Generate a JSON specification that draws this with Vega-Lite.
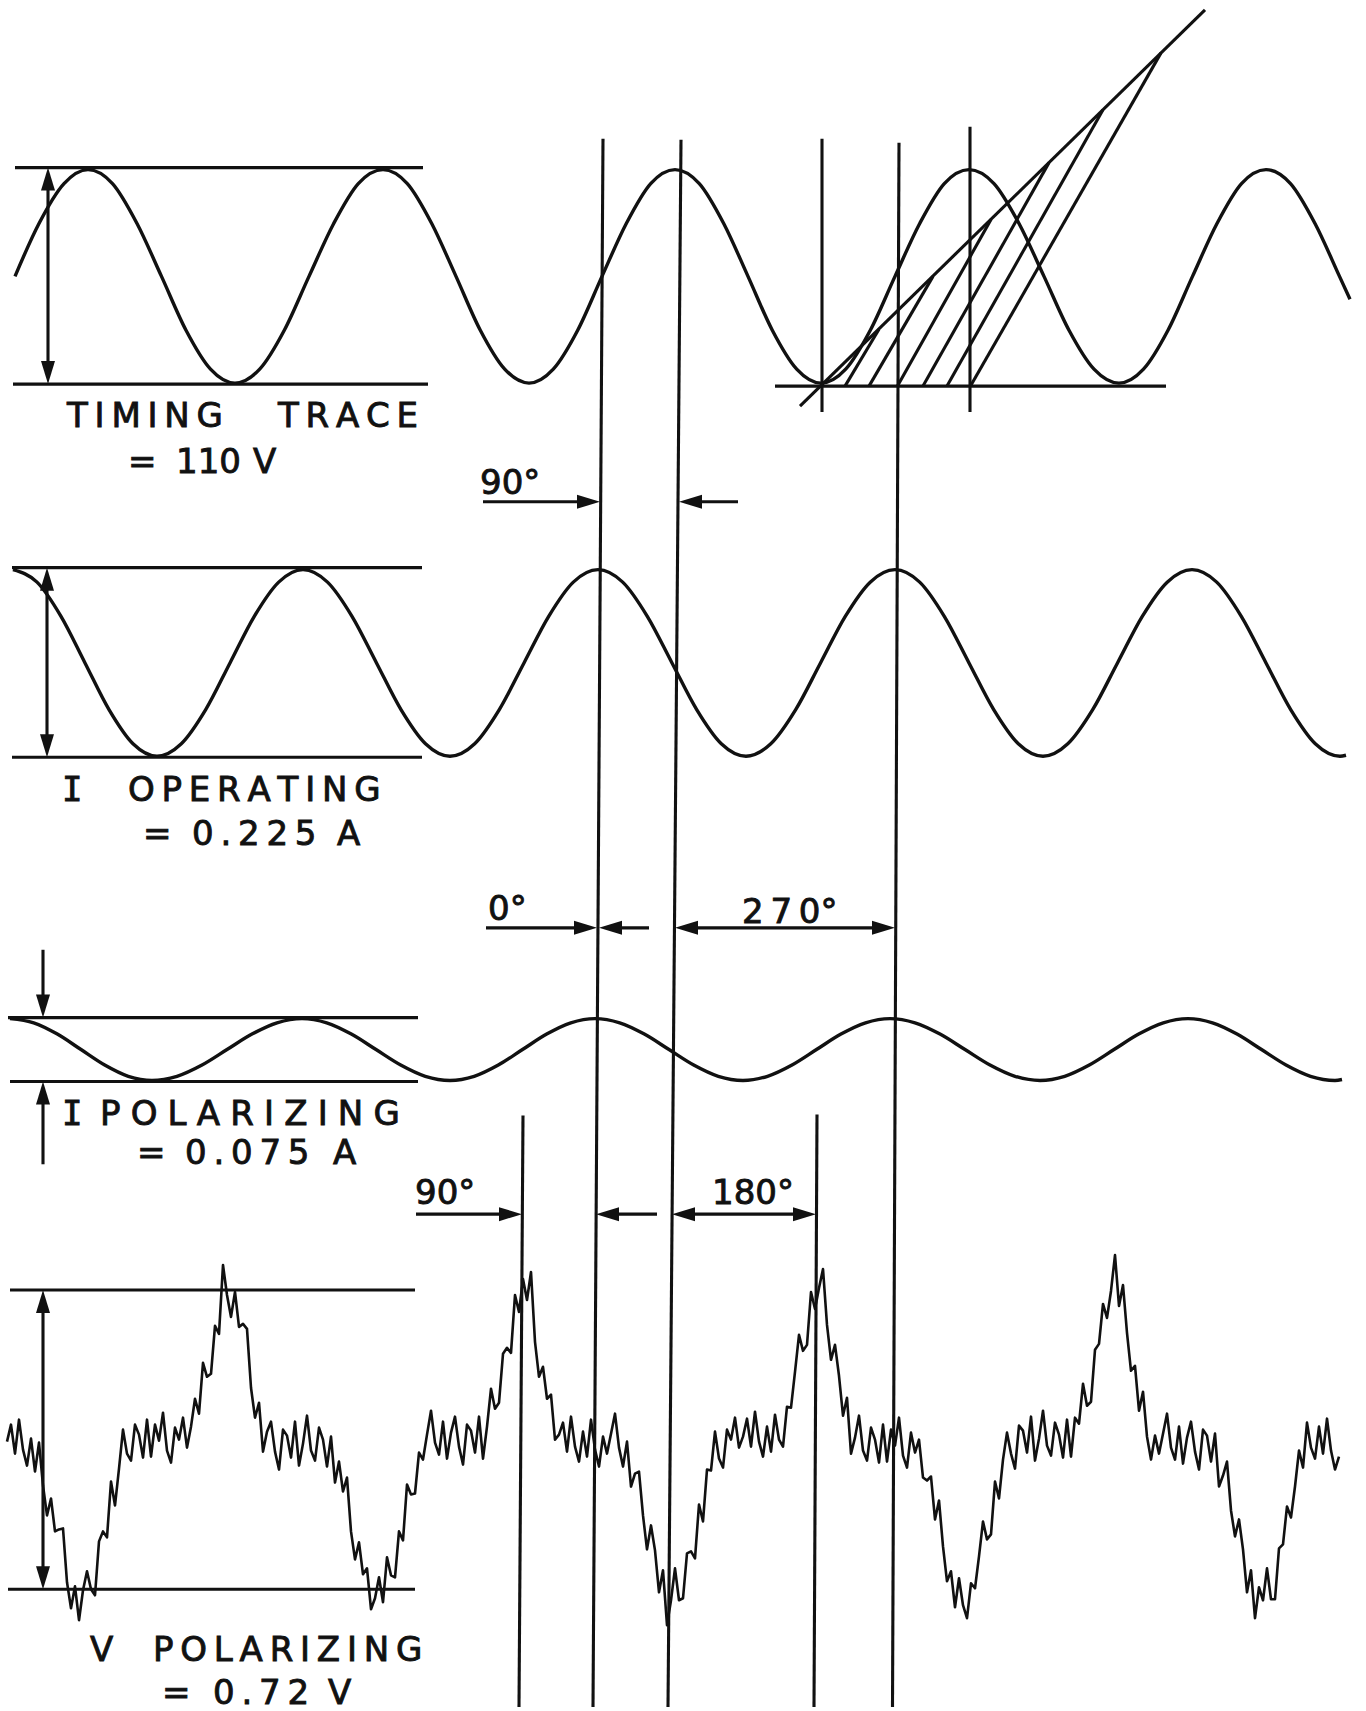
{
"$schema":"https://vega.github.io/schema/vega-lite/v6.json",
"width":1366,"height":1711,"padding":0,
"autosize":{"type":"fit","contains":"padding"},
"background":"white",
"config":{"view":{"stroke":null}},
"datasets":{
"curves":[
{"c":"t","x":15,"y":277},{"c":"t","x":39,"y":224},{"c":"t","x":64,"y":184},{"c":"t","x":88,"y":170},{"c":"t","x":112.5,"y":184},{"c":"t","x":137,"y":224},{"c":"t","x":161.5,"y":277},{"c":"t","x":186,"y":331},{"c":"t","x":210.5,"y":370},{"c":"t","x":235,"y":384},{"c":"t","x":259.7,"y":370},{"c":"t","x":284.3,"y":331},{"c":"t","x":309,"y":277},{"c":"t","x":333.7,"y":224},{"c":"t","x":358.3,"y":184},{"c":"t","x":383,"y":170},{"c":"t","x":407.3,"y":184},{"c":"t","x":431.7,"y":224},{"c":"t","x":456,"y":277},{"c":"t","x":480.3,"y":331},{"c":"t","x":504.7,"y":370},{"c":"t","x":529,"y":384},{"c":"t","x":553.3,"y":370},{"c":"t","x":577.7,"y":331},{"c":"t","x":602,"y":277},{"c":"t","x":626.3,"y":224},{"c":"t","x":650.7,"y":184},{"c":"t","x":675,"y":170},{"c":"t","x":699.3,"y":184},{"c":"t","x":723.7,"y":224},{"c":"t","x":748,"y":277},{"c":"t","x":772.3,"y":331},{"c":"t","x":796.7,"y":370},{"c":"t","x":821,"y":384},{"c":"t","x":845.7,"y":370},{"c":"t","x":870.3,"y":331},{"c":"t","x":895,"y":277},{"c":"t","x":919.7,"y":224},{"c":"t","x":944.3,"y":184},{"c":"t","x":969,"y":170},{"c":"t","x":994,"y":184},{"c":"t","x":1019,"y":224},{"c":"t","x":1044,"y":277},{"c":"t","x":1069,"y":331},{"c":"t","x":1094,"y":370},{"c":"t","x":1119,"y":384},{"c":"t","x":1143.5,"y":370},{"c":"t","x":1168,"y":331},{"c":"t","x":1192.5,"y":277},{"c":"t","x":1217,"y":224},{"c":"t","x":1241.5,"y":184},{"c":"t","x":1266,"y":170},{"c":"t","x":1290.5,"y":184},{"c":"t","x":1315,"y":224},{"c":"t","x":1339.5,"y":277},{"c":"t","x":1350,"y":300},
{"c":"o","x":13,"y":571},{"c":"o","x":37,"y":583.5},{"c":"o","x":61,"y":617.8},{"c":"o","x":85,"y":664.5},{"c":"o","x":109,"y":711.3},{"c":"o","x":133,"y":745.5},{"c":"o","x":157,"y":758},{"c":"o","x":181.3,"y":745.5},{"c":"o","x":205.7,"y":711.3},{"c":"o","x":230,"y":664.5},{"c":"o","x":254.3,"y":617.8},{"c":"o","x":278.7,"y":583.5},{"c":"o","x":303,"y":571},{"c":"o","x":327.5,"y":583.5},{"c":"o","x":352,"y":617.8},{"c":"o","x":376.5,"y":664.5},{"c":"o","x":401,"y":711.3},{"c":"o","x":425.5,"y":745.5},{"c":"o","x":450,"y":758},{"c":"o","x":474.7,"y":745.5},{"c":"o","x":499.3,"y":711.3},{"c":"o","x":524,"y":664.5},{"c":"o","x":548.7,"y":617.8},{"c":"o","x":573.3,"y":583.5},{"c":"o","x":598,"y":571},{"c":"o","x":622.7,"y":583.5},{"c":"o","x":647.3,"y":617.8},{"c":"o","x":672,"y":664.5},{"c":"o","x":696.7,"y":711.3},{"c":"o","x":721.3,"y":745.5},{"c":"o","x":746,"y":758},{"c":"o","x":770.8,"y":745.5},{"c":"o","x":795.7,"y":711.3},{"c":"o","x":820.5,"y":664.5},{"c":"o","x":845.3,"y":617.8},{"c":"o","x":870.2,"y":583.5},{"c":"o","x":895,"y":571},{"c":"o","x":919.7,"y":583.5},{"c":"o","x":944.3,"y":617.8},{"c":"o","x":969,"y":664.5},{"c":"o","x":993.7,"y":711.3},{"c":"o","x":1018.3,"y":745.5},{"c":"o","x":1043,"y":758},{"c":"o","x":1067.8,"y":745.5},{"c":"o","x":1092.7,"y":711.3},{"c":"o","x":1117.5,"y":664.5},{"c":"o","x":1142.3,"y":617.8},{"c":"o","x":1167.2,"y":583.5},{"c":"o","x":1192,"y":571},{"c":"o","x":1216.7,"y":583.5},{"c":"o","x":1241.3,"y":617.8},{"c":"o","x":1266,"y":664.5},{"c":"o","x":1290.7,"y":711.3},{"c":"o","x":1315.3,"y":745.5},{"c":"o","x":1340,"y":758},{"c":"o","x":1346,"y":757},
{"c":"p","x":10,"y":1021},{"c":"p","x":33.7,"y":1025.2},{"c":"p","x":57.3,"y":1036.5},{"c":"p","x":81,"y":1052},{"c":"p","x":104.7,"y":1067.5},{"c":"p","x":128.3,"y":1078.8},{"c":"p","x":152,"y":1083},{"c":"p","x":177,"y":1078.8},{"c":"p","x":202,"y":1067.5},{"c":"p","x":227,"y":1052},{"c":"p","x":252,"y":1036.5},{"c":"p","x":277,"y":1025.2},{"c":"p","x":302,"y":1021},{"c":"p","x":326.7,"y":1025.2},{"c":"p","x":351.3,"y":1036.5},{"c":"p","x":376,"y":1052},{"c":"p","x":400.7,"y":1067.5},{"c":"p","x":425.3,"y":1078.8},{"c":"p","x":450,"y":1083},{"c":"p","x":474.2,"y":1078.8},{"c":"p","x":498.3,"y":1067.5},{"c":"p","x":522.5,"y":1052},{"c":"p","x":546.7,"y":1036.5},{"c":"p","x":570.8,"y":1025.2},{"c":"p","x":595,"y":1021},{"c":"p","x":619.7,"y":1025.2},{"c":"p","x":644.3,"y":1036.5},{"c":"p","x":669,"y":1052},{"c":"p","x":693.7,"y":1067.5},{"c":"p","x":718.3,"y":1078.8},{"c":"p","x":743,"y":1083},{"c":"p","x":767.5,"y":1078.8},{"c":"p","x":792,"y":1067.5},{"c":"p","x":816.5,"y":1052},{"c":"p","x":841,"y":1036.5},{"c":"p","x":865.5,"y":1025.2},{"c":"p","x":890,"y":1021},{"c":"p","x":915,"y":1025.2},{"c":"p","x":940,"y":1036.5},{"c":"p","x":965,"y":1052},{"c":"p","x":990,"y":1067.5},{"c":"p","x":1015,"y":1078.8},{"c":"p","x":1040,"y":1083},{"c":"p","x":1064.7,"y":1078.8},{"c":"p","x":1089.3,"y":1067.5},{"c":"p","x":1114,"y":1052},{"c":"p","x":1138.7,"y":1036.5},{"c":"p","x":1163.3,"y":1025.2},{"c":"p","x":1188,"y":1021},{"c":"p","x":1212.5,"y":1025.2},{"c":"p","x":1237,"y":1036.5},{"c":"p","x":1261.5,"y":1052},{"c":"p","x":1286,"y":1067.5},{"c":"p","x":1310.5,"y":1078.8},{"c":"p","x":1335,"y":1083},{"c":"p","x":1342,"y":1082}
],
"noisy":[
{"x":7,"y":1445},{"x":11,"y":1428},{"x":15,"y":1457},{"x":19,"y":1423},{"x":23,"y":1453},{"x":27,"y":1469},{"x":31,"y":1442},{"x":35,"y":1475},{"x":39,"y":1446},{"x":43,"y":1489},{"x":47,"y":1519},{"x":51,"y":1502},{"x":55,"y":1535},{"x":59,"y":1533},{"x":63,"y":1532},{"x":67,"y":1586},{"x":71,"y":1612},{"x":75,"y":1590},{"x":79,"y":1624},{"x":83,"y":1594},{"x":87,"y":1575},{"x":91,"y":1593},{"x":95,"y":1599},{"x":99,"y":1545},{"x":103,"y":1535},{"x":107,"y":1541},{"x":111,"y":1485},{"x":115,"y":1509},{"x":119,"y":1472},{"x":123,"y":1433},{"x":127,"y":1457},{"x":131,"y":1464},{"x":135,"y":1428},{"x":139,"y":1438},{"x":143,"y":1461},{"x":147,"y":1423},{"x":151,"y":1460},{"x":155,"y":1428},{"x":159,"y":1444},{"x":163,"y":1416},{"x":167,"y":1454},{"x":171,"y":1466},{"x":175,"y":1431},{"x":179,"y":1443},{"x":183,"y":1421},{"x":187,"y":1451},{"x":191,"y":1430},{"x":195,"y":1402},{"x":199,"y":1417},{"x":203,"y":1366},{"x":207,"y":1380},{"x":211,"y":1377},{"x":215,"y":1329},{"x":219,"y":1337},{"x":223,"y":1268},{"x":227,"y":1298},{"x":231,"y":1320},{"x":235,"y":1295},{"x":239,"y":1330},{"x":243,"y":1327},{"x":247,"y":1332},{"x":251,"y":1391},{"x":255,"y":1421},{"x":259,"y":1406},{"x":263,"y":1455},{"x":267,"y":1435},{"x":271,"y":1425},{"x":275,"y":1455},{"x":279,"y":1473},{"x":283,"y":1433},{"x":287,"y":1439},{"x":291,"y":1461},{"x":295,"y":1425},{"x":299,"y":1469},{"x":303,"y":1447},{"x":307,"y":1419},{"x":311,"y":1454},{"x":315,"y":1464},{"x":319,"y":1431},{"x":323,"y":1443},{"x":327,"y":1470},{"x":331,"y":1440},{"x":335,"y":1486},{"x":339,"y":1465},{"x":343,"y":1495},{"x":347,"y":1481},{"x":351,"y":1535},{"x":355,"y":1563},{"x":359,"y":1546},{"x":363,"y":1578},{"x":367,"y":1572},{"x":371,"y":1613},{"x":375,"y":1602},{"x":379,"y":1581},{"x":383,"y":1606},{"x":387,"y":1561},{"x":391,"y":1579},{"x":395,"y":1581},{"x":399,"y":1535},{"x":403,"y":1544},{"x":407,"y":1488},{"x":411,"y":1498},{"x":415,"y":1497},{"x":419,"y":1456},{"x":423,"y":1463},{"x":427,"y":1438},{"x":431,"y":1414},{"x":435,"y":1446},{"x":439,"y":1458},{"x":443,"y":1425},{"x":447,"y":1462},{"x":451,"y":1436},{"x":455,"y":1420},{"x":459,"y":1450},{"x":463,"y":1468},{"x":467,"y":1428},{"x":471,"y":1434},{"x":475,"y":1456},{"x":479,"y":1420},{"x":483,"y":1462},{"x":487,"y":1430},{"x":491,"y":1392},{"x":495,"y":1412},{"x":499,"y":1406},{"x":503,"y":1357},{"x":507,"y":1351},{"x":511,"y":1356},{"x":515,"y":1298},{"x":519,"y":1315},{"x":523,"y":1282},{"x":527,"y":1303},{"x":531,"y":1275},{"x":535,"y":1345},{"x":539,"y":1380},{"x":543,"y":1370},{"x":547,"y":1402},{"x":551,"y":1398},{"x":555,"y":1443},{"x":559,"y":1438},{"x":563,"y":1426},{"x":567,"y":1455},{"x":571,"y":1420},{"x":575,"y":1450},{"x":579,"y":1465},{"x":583,"y":1435},{"x":587,"y":1460},{"x":591,"y":1423},{"x":595,"y":1453},{"x":599,"y":1470},{"x":603,"y":1440},{"x":607,"y":1457},{"x":611,"y":1437},{"x":615,"y":1417},{"x":619,"y":1451},{"x":623,"y":1470},{"x":627,"y":1445},{"x":631,"y":1490},{"x":635,"y":1477},{"x":639,"y":1475},{"x":643,"y":1519},{"x":647,"y":1553},{"x":651,"y":1529},{"x":655,"y":1554},{"x":659,"y":1596},{"x":663,"y":1574},{"x":667,"y":1629},{"x":671,"y":1604},{"x":675,"y":1572},{"x":679,"y":1604},{"x":683,"y":1602},{"x":687,"y":1557},{"x":691,"y":1555},{"x":695,"y":1562},{"x":699,"y":1508},{"x":703,"y":1525},{"x":707,"y":1473},{"x":711,"y":1474},{"x":715,"y":1435},{"x":719,"y":1462},{"x":723,"y":1471},{"x":727,"y":1433},{"x":731,"y":1443},{"x":735,"y":1421},{"x":739,"y":1451},{"x":743,"y":1440},{"x":747,"y":1422},{"x":751,"y":1450},{"x":755,"y":1415},{"x":759,"y":1445},{"x":763,"y":1460},{"x":767,"y":1430},{"x":771,"y":1455},{"x":775,"y":1418},{"x":779,"y":1443},{"x":783,"y":1450},{"x":787,"y":1410},{"x":791,"y":1411},{"x":795,"y":1375},{"x":799,"y":1338},{"x":803,"y":1354},{"x":807,"y":1348},{"x":811,"y":1295},{"x":815,"y":1312},{"x":819,"y":1291},{"x":823,"y":1272},{"x":827,"y":1328},{"x":831,"y":1363},{"x":835,"y":1348},{"x":839,"y":1379},{"x":843,"y":1419},{"x":847,"y":1401},{"x":851,"y":1457},{"x":855,"y":1441},{"x":859,"y":1419},{"x":863,"y":1454},{"x":867,"y":1464},{"x":871,"y":1431},{"x":875,"y":1443},{"x":879,"y":1466},{"x":883,"y":1428},{"x":887,"y":1465},{"x":891,"y":1433},{"x":895,"y":1449},{"x":899,"y":1421},{"x":903,"y":1459},{"x":907,"y":1471},{"x":911,"y":1436},{"x":915,"y":1456},{"x":919,"y":1443},{"x":923,"y":1481},{"x":927,"y":1484},{"x":931,"y":1480},{"x":935,"y":1523},{"x":939,"y":1504},{"x":943,"y":1550},{"x":947,"y":1585},{"x":951,"y":1575},{"x":955,"y":1611},{"x":959,"y":1582},{"x":963,"y":1609},{"x":967,"y":1622},{"x":971,"y":1587},{"x":975,"y":1592},{"x":979,"y":1560},{"x":983,"y":1525},{"x":987,"y":1543},{"x":991,"y":1538},{"x":995,"y":1485},{"x":999,"y":1502},{"x":1003,"y":1463},{"x":1007,"y":1436},{"x":1011,"y":1457},{"x":1015,"y":1472},{"x":1019,"y":1429},{"x":1023,"y":1434},{"x":1027,"y":1456},{"x":1031,"y":1420},{"x":1035,"y":1464},{"x":1039,"y":1442},{"x":1043,"y":1414},{"x":1047,"y":1449},{"x":1051,"y":1459},{"x":1055,"y":1426},{"x":1059,"y":1438},{"x":1063,"y":1461},{"x":1067,"y":1423},{"x":1071,"y":1460},{"x":1075,"y":1421},{"x":1079,"y":1427},{"x":1083,"y":1387},{"x":1087,"y":1409},{"x":1091,"y":1405},{"x":1095,"y":1353},{"x":1099,"y":1347},{"x":1103,"y":1307},{"x":1107,"y":1321},{"x":1111,"y":1294},{"x":1115,"y":1258},{"x":1119,"y":1309},{"x":1123,"y":1288},{"x":1127,"y":1336},{"x":1131,"y":1374},{"x":1135,"y":1369},{"x":1139,"y":1414},{"x":1143,"y":1395},{"x":1147,"y":1440},{"x":1151,"y":1463},{"x":1155,"y":1439},{"x":1159,"y":1457},{"x":1163,"y":1437},{"x":1167,"y":1417},{"x":1171,"y":1451},{"x":1175,"y":1463},{"x":1179,"y":1430},{"x":1183,"y":1467},{"x":1187,"y":1441},{"x":1191,"y":1425},{"x":1195,"y":1455},{"x":1199,"y":1473},{"x":1203,"y":1433},{"x":1207,"y":1439},{"x":1211,"y":1465},{"x":1215,"y":1437},{"x":1219,"y":1490},{"x":1223,"y":1479},{"x":1227,"y":1465},{"x":1231,"y":1514},{"x":1235,"y":1540},{"x":1239,"y":1523},{"x":1243,"y":1553},{"x":1247,"y":1596},{"x":1251,"y":1574},{"x":1255,"y":1622},{"x":1259,"y":1591},{"x":1263,"y":1604},{"x":1267,"y":1572},{"x":1271,"y":1603},{"x":1275,"y":1603},{"x":1279,"y":1552},{"x":1283,"y":1548},{"x":1287,"y":1510},{"x":1291,"y":1521},{"x":1295,"y":1490},{"x":1299,"y":1454},{"x":1303,"y":1471},{"x":1307,"y":1426},{"x":1311,"y":1451},{"x":1315,"y":1462},{"x":1319,"y":1430},{"x":1323,"y":1457},{"x":1327,"y":1422},{"x":1331,"y":1454},{"x":1335,"y":1473},{"x":1339,"y":1460}
],
"segs":[
{"x":15,"y":168,"x2":423,"y2":168},{"x":13,"y":385,"x2":428,"y2":385},{"x":48,"y":180,"x2":48,"y2":373},
{"x":12,"y":569,"x2":422,"y2":569},{"x":12,"y":759,"x2":422,"y2":759},{"x":47,"y":580,"x2":47,"y2":748},
{"x":8,"y":1020,"x2":418,"y2":1020},{"x":10,"y":1084,"x2":418,"y2":1084},{"x":43,"y":952,"x2":43,"y2":1005},{"x":43,"y":1100,"x2":43,"y2":1167},
{"x":10,"y":1293,"x2":415,"y2":1293},{"x":8,"y":1593,"x2":415,"y2":1593},{"x":43,"y":1305,"x2":43,"y2":1581},
{"x":603,"y":139,"x2":593,"y2":1711},{"x":681,"y":140,"x2":668,"y2":1711},{"x":899,"y":143,"x2":892.5,"y2":1711},
{"x":822,"y":139,"x2":822,"y2":413},{"x":970,"y":127,"x2":970,"y2":413},
{"x":523,"y":1118,"x2":519,"y2":1711},{"x":817,"y":1117,"x2":814,"y2":1711},
{"x":775,"y":387,"x2":1166,"y2":387},{"x":800,"y":407,"x2":1205,"y2":10},
{"x":845,"y":387,"x2":879,"y2":330},{"x":869,"y":387,"x2":933,"y2":277},{"x":897.5,"y":387,"x2":991,"y2":220},{"x":923,"y":387,"x2":1049,"y2":163},{"x":947,"y":387,"x2":1103,"y2":110},{"x":970.5,"y":387,"x2":1161,"y2":53},
{"x":483,"y":503,"x2":590,"y2":503},{"x":738,"y":503,"x2":688,"y2":503},
{"x":486,"y":930,"x2":588,"y2":930},{"x":649,"y":930,"x2":607,"y2":930},{"x":684,"y":930,"x2":886,"y2":930},
{"x":416,"y":1217,"x2":512,"y2":1217},{"x":657,"y":1217,"x2":606,"y2":1217},{"x":682,"y":1217,"x2":806,"y2":1217}
],
"heads":[
{"x":48,"y":168,"a":0},{"x":48,"y":385,"a":180},{"x":47,"y":569,"a":0},{"x":47,"y":759,"a":180},{"x":43,"y":1020,"a":180},{"x":43,"y":1084,"a":0},{"x":43,"y":1293,"a":0},{"x":43,"y":1593,"a":180},
{"x":600,"y":503,"a":90},{"x":679,"y":503,"a":270},{"x":597,"y":930,"a":90},{"x":599,"y":930,"a":270},{"x":675,"y":930,"a":270},{"x":895,"y":930,"a":90},{"x":522,"y":1217,"a":90},{"x":596,"y":1217,"a":270},{"x":672,"y":1217,"a":270},{"x":816,"y":1217,"a":90}
],
"txt":[
{"x":67,"y":428,"t":"T\u2009I\u2009M\u2009I\u2009N\u2009G"},{"x":278,"y":428,"t":"T\u2009R\u2009A\u2009C\u2009E"},
{"x":128,"y":474,"t":"="},{"x":176,"y":474,"t":"110"},{"x":253,"y":474,"t":"V"},
{"x":480,"y":495,"t":"90°"},
{"x":128,"y":803,"t":"O\u2009P\u2009E\u2009R\u2009A\u2009T\u2009I\u2009N\u2009G"},
{"x":143,"y":847,"t":"="},{"x":192,"y":847,"t":"0\u2009.\u20092\u20092\u20095"},{"x":337,"y":847,"t":"A"},
{"x":488,"y":922,"t":"0°"},{"x":742,"y":925,"t":"2\u20097\u20090°"},
{"x":100,"y":1128,"t":"P\u2009\u200aO\u2009\u200aL\u2009\u200aA\u2009\u200aR\u2009\u200aI\u2009\u200aZ\u2009\u200aI\u2009\u200aN\u2009\u200aG"},
{"x":137,"y":1167,"t":"="},{"x":185,"y":1167,"t":"0\u2009.\u20090\u20097\u20095"},{"x":333,"y":1167,"t":"A"},
{"x":415,"y":1207,"t":"90°"},{"x":712,"y":1207,"t":"180°"},
{"x":90,"y":1665,"t":"V"},{"x":153,"y":1665,"t":"P\u2009O\u2009L\u2009A\u2009R\u2009I\u2009Z\u2009I\u2009N\u2009G"},
{"x":162,"y":1708,"t":"="},{"x":213,"y":1708,"t":"0\u2009.\u20097\u20092"},{"x":328,"y":1708,"t":"V"}
],
"txtI":[
{"x":62,"y":803,"t":"I"},{"x":62,"y":1128,"t":"I"}
]
},
"encoding":{
"x":{"field":"x","type":"quantitative","scale":{"domain":[0,1366],"nice":false,"zero":false},"axis":null},
"y":{"field":"y","type":"quantitative","scale":{"domain":[0,1711],"reverse":true,"nice":false,"zero":false},"axis":null}
},
"layer":[
{"data":{"name":"curves"},"mark":{"type":"line","interpolate":"monotone","color":"#111","strokeWidth":3.4},"encoding":{"detail":{"field":"c"}}},
{"data":{"name":"noisy"},"mark":{"type":"line","interpolate":"linear","color":"#111","strokeWidth":2.6,"strokeJoin":"round"},"encoding":{}},
{"data":{"name":"segs"},"mark":{"type":"rule","color":"#111","strokeWidth":3.1},"encoding":{"x2":{"field":"x2"},"y2":{"field":"y2"}}},
{"data":{"name":"heads"},"mark":{"type":"point","shape":"M0,0L0.7,2.3L-0.7,2.3Z","size":400,"filled":true,"opacity":1,"color":"#111","strokeWidth":0},"encoding":{"angle":{"field":"a","type":"quantitative","scale":null}}},
{"data":{"name":"txt"},"mark":{"type":"text","align":"left","baseline":"alphabetic","font":"DejaVu Sans","fontSize":34,"color":"#111","stroke":"#111","strokeWidth":0.9},"encoding":{"text":{"field":"t"}}},
{"data":{"name":"txtI"},"mark":{"type":"text","align":"left","baseline":"alphabetic","font":"DejaVu Sans Mono","fontSize":34,"color":"#111","stroke":"#111","strokeWidth":0.9},"encoding":{"text":{"field":"t"}}}
]
}
